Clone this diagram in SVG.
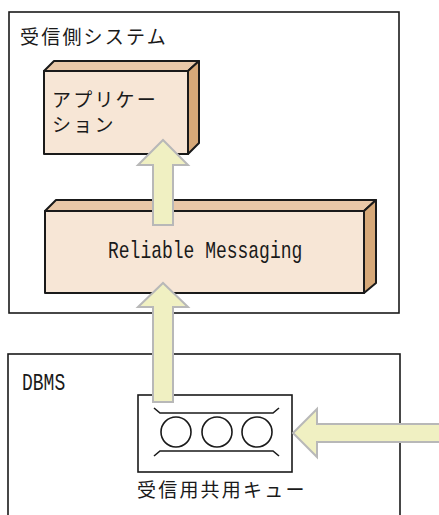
<svg xmlns="http://www.w3.org/2000/svg" width="439" height="515" viewBox="0 0 439 515">
<style>
.frame{fill:#fff;stroke:#1a1a1a;stroke-width:1.6}
.front{fill:#F7E6D6;stroke:#1a1a1a;stroke-width:2;stroke-linejoin:round}
.top{fill:#E9C8A8;stroke:#1a1a1a;stroke-width:2;stroke-linejoin:round}
.side{fill:#D6A878;stroke:#1a1a1a;stroke-width:2;stroke-linejoin:round}
.arrow{fill:#F0F0C2;stroke:#B8B8B8;stroke-width:2;stroke-linejoin:miter}
.jp{font-family:"Noto Sans CJK JP","Noto Sans",sans-serif;font-size:19px;letter-spacing:2.2px;fill:#1a1a1a}
.mono{font-family:"Liberation Mono","DejaVu Sans Mono",monospace;font-size:18px;fill:#1a1a1a}
.q{fill:none;stroke:#1a1a1a;stroke-width:1.6}
</style>
<g id="receiver-system">
<rect class="frame" x="9" y="12" width="390" height="301"/>
<text class="jp" x="20" y="44">受信側システム</text>
</g>
<g id="dbms">
<rect class="frame" x="8" y="354" width="392" height="170"/>
<text class="mono" transform="translate(22,390) scale(1,1.3)" x="0" y="0">DBMS</text>
</g>
<g id="application">
<polygon class="top" points="44,71 54,61 199,61 188,71"/>
<polygon class="side" points="188,71 199,61 199,143 188,154"/>
<rect class="front" x="44" y="71" width="144" height="83"/>
<text class="jp" x="52" y="107">アプリケー</text>
<text class="jp" x="52" y="132">ション</text>
</g>
<g id="reliable-messaging">
<polygon class="top" points="45,211 56,200 376,200 364,211"/>
<polygon class="side" points="364,211 376,200 376,283 364,293"/>
<rect class="front" x="45" y="211" width="319" height="82"/>
<text class="mono" transform="translate(108,258) scale(1,1.3)" x="0" y="0">Reliable Messaging</text>
</g>
<g id="shared-queue">
<rect class="frame" x="138" y="395" width="154" height="77"/>
<path class="q" d="M154,408 L160,413 H273 L279,408 M154,456 L160,451 H273 L279,456"/>
<circle class="q" cx="176" cy="432" r="15"/>
<circle class="q" cx="217" cy="432" r="15"/>
<circle class="q" cx="257" cy="432" r="15"/>
<text class="jp" x="137" y="497">受信用共用キュー</text>
</g>
<g id="connectors">
<path class="arrow" d="M153,225 V165 H138 L163,140 L188,165 H173 V225 Z"/>
<path class="arrow" d="M153,402 V307 H138 L163,283 L188,307 H173 V402 Z"/>
<path class="arrow" d="M445,424 H317 V409 L293,433 L317,457 V442 H445 Z"/>
</g>
</svg>
